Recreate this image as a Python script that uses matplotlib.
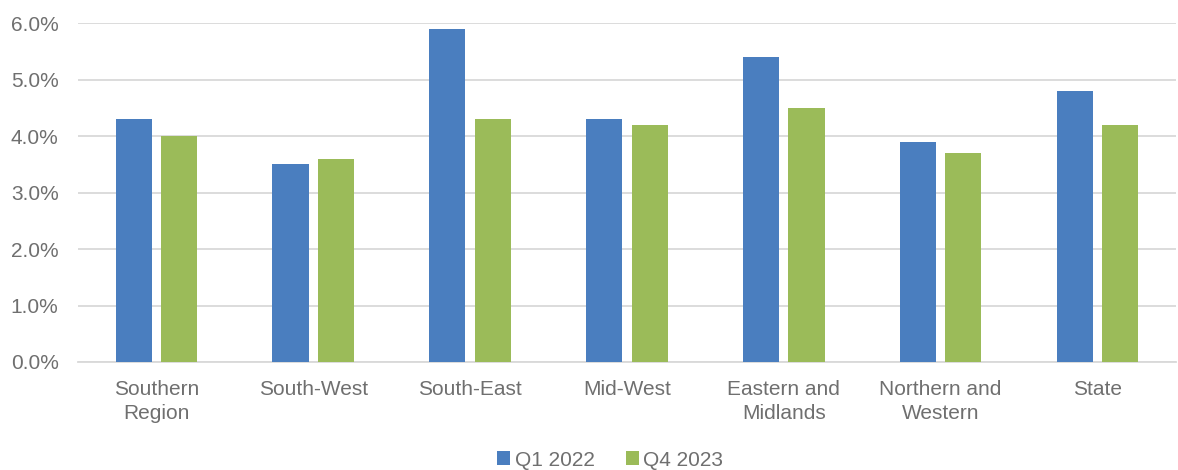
import matplotlib.pyplot as plt
import numpy as np
from matplotlib.ticker import FuncFormatter

plt.rcParams['font.family'] = ['Liberation Sans', 'DejaVu Sans']

# Regionen und Werte
regions = ["Southern\nRegion", "South-West", "South-East", "Mid-West",
           "Eastern and\nMidlands", "Northern and\nWestern", "State"]
q1_2022 = [4.3, 3.5, 5.9, 4.3, 5.4, 3.9, 4.8]
q4_2023 = [4.0, 3.6, 4.3, 4.2, 4.5, 3.7, 4.2]

grau = '#6F6F6F'

fig = plt.figure(figsize=(11.78, 4.7), dpi=100)
ax = fig.add_axes([0.0662, 0.2298, 0.932, 0.7212])

x = np.arange(len(regions))
w = 0.23
ax.bar(x - 0.145, q1_2022, w, color='#4A7EBF', label='Q1 2022', zorder=3)
ax.bar(x + 0.145, q4_2023, w, color='#9BBB59', label='Q4 2023', zorder=3)

ax.set_xlim(-0.5, len(regions) - 0.5)
ax.set_ylim(0, 6.0)
ax.set_yticks(np.arange(0, 6.1, 1.0))
ax.yaxis.set_major_formatter(FuncFormatter(lambda v, p: f"{v:.1f}%"))
ax.set_xticks(x)
ax.set_xticklabels(regions, linespacing=1.3)

ax.grid(axis='y', color='#D9D9D9', linewidth=1.3, zorder=0)
for s in ['top', 'right', 'left']:
    ax.spines[s].set_visible(False)
ax.spines['bottom'].set_color('#D9D9D9')
ax.spines['bottom'].set_linewidth(1.3)
ax.tick_params(axis='both', length=0, labelsize=15, colors=grau)
ax.tick_params(axis='y', pad=14)
ax.tick_params(axis='x', pad=13)

fig.legend(loc='center', bbox_to_anchor=(0.518, 0.021), ncol=2, frameon=False,
           fontsize=15, labelcolor=grau, handlelength=0.65, handleheight=0.65,
           handletextpad=0.2, columnspacing=1.5)

plt.savefig('out.png', dpi=100)
